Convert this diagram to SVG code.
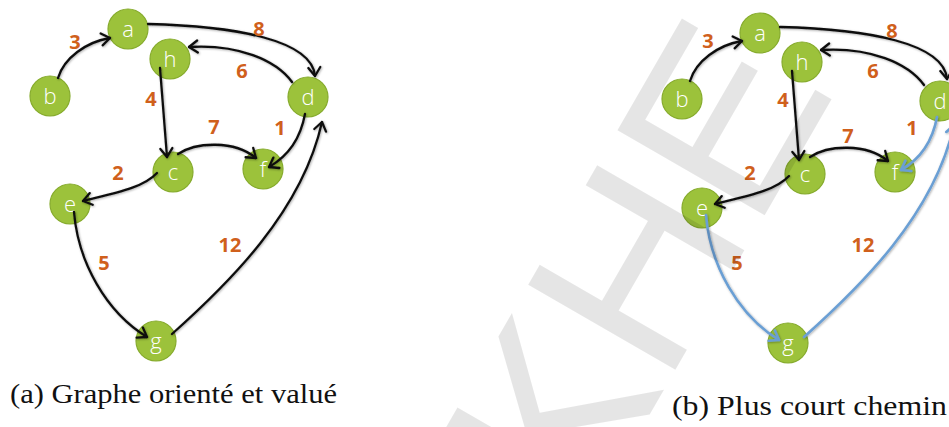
<svg xmlns="http://www.w3.org/2000/svg" width="949" height="427" viewBox="0 0 949 427">
  <style>
    .node circle { fill: #9cc23b; stroke: #86ab2d; stroke-width: 1.2; }
    .node text { font-family: "Open Sans", "Liberation Sans", sans-serif; font-size: 22px; font-weight: 300; fill: #ffffff; text-anchor: middle; }
    .edge { fill: none; stroke: #111111; stroke-width: 2.3; stroke-linecap: round; }
    .edge.path { stroke: #6b9fd4; stroke-width: 2.6; }
    .w { font-family: "Open Sans", "Liberation Sans", sans-serif; font-size: 20px; font-weight: 700; fill: #d0601c; text-anchor: middle; }
    .cap { font-family: "Liberation Serif", serif; font-size: 28px; fill: #111111; }
    .mark { font-family: "Liberation Sans", sans-serif; font-size: 247px; fill: #000000; fill-opacity: 0.1; }
  </style>
  <defs>
    <filter id="soft" x="-10%" y="-10%" width="120%" height="120%">
      <feDropShadow dx="0.8" dy="0.8" stdDeviation="0.9" flood-color="#000" flood-opacity="0.35"/>
    </filter>
    <marker id="tip" viewBox="-12 -8 14 16" markerWidth="14" markerHeight="16" refX="0" refY="0" orient="auto" markerUnits="userSpaceOnUse">
      <path d="M-8.5,-6 L0,0 L-8.5,6" fill="none" stroke="#111111" stroke-width="2.3" stroke-linecap="round" stroke-linejoin="round"/>
    </marker>
    <marker id="tipBlue" viewBox="-12 -8 14 16" markerWidth="14" markerHeight="16" refX="0" refY="0" orient="auto" markerUnits="userSpaceOnUse">
      <path d="M-8.5,-6 L0,0 L-8.5,6" fill="none" stroke="#6b9fd4" stroke-width="2.6" stroke-linecap="round" stroke-linejoin="round"/>
    </marker>
  </defs>

  <rect width="949" height="427" fill="#ffffff"/>

  <!-- (a) weighted directed graph -->
  <g id="graph-a">
    <g id="a-a" class="node"><circle cx="128" cy="29" r="20"/><text x="128" y="37">a</text></g>
    <g id="a-h" class="node"><circle cx="170" cy="59" r="20"/><text x="170" y="67">h</text></g>
    <g id="a-b" class="node"><circle cx="50" cy="96" r="20"/><text x="50" y="104">b</text></g>
    <g id="a-d" class="node"><circle cx="308" cy="97" r="20"/><text x="308" y="105">d</text></g>
    <g id="a-c" class="node"><circle cx="173" cy="172" r="20"/><text x="173" y="180">c</text></g>
    <g id="a-f" class="node"><circle cx="263" cy="169" r="20"/><text x="263" y="177">f</text></g>
    <g id="a-e" class="node"><circle cx="70" cy="204" r="20"/><text x="70" y="212">e</text></g>
    <g id="a-g" class="node"><circle cx="156" cy="341" r="20"/><text x="156" y="349">g</text></g>

    <g id="edges-a" filter="url(#soft)">
      <path class="edge" marker-end="url(#tip)" d="M58,78 C64,58 86,42 110,38"/>
      <path class="edge" marker-end="url(#tip)" d="M148,24 C235,26 312,40 315,76"/>
      <path class="edge" marker-end="url(#tip)" d="M292,82 C276,60 238,44 189,47"/>
      <path class="edge" marker-end="url(#tip)" d="M160,68 L167,157"/>
      <path class="edge" marker-end="url(#tip)" d="M178,154 C196,142 234,140 256,158"/>
      <path class="edge" marker-end="url(#tip)" d="M305,114 C301,136 290,155 269,167"/>
      <path class="edge" marker-end="url(#tip)" d="M157,173 C143,188 115,193 83,201"/>
      <path class="edge" marker-end="url(#tip)" d="M74,212 C78,262 106,312 147,337"/>
      <path class="edge" marker-end="url(#tip)" d="M172,334 C228,284 302,212 322,122"/>
    </g>

    <g id="weights-a">
      <text class="w" x="75" y="49">3</text>
      <text class="w" x="259" y="36">8</text>
      <text class="w" x="242" y="78">6</text>
      <text class="w" x="151" y="106">4</text>
      <text class="w" x="214" y="134">7</text>
      <text class="w" x="280" y="135">1</text>
      <text class="w" x="118" y="180">2</text>
      <text class="w" x="104" y="270">5</text>
      <text class="w" x="230" y="252">12</text>
    </g>
  </g>

  <!-- (b) shortest path -->
  <g id="graph-b">
    <g id="b-a" class="node"><circle cx="760" cy="33" r="20"/><text x="760" y="41">a</text></g>
    <g id="b-h" class="node"><circle cx="802" cy="62" r="20"/><text x="802" y="70">h</text></g>
    <g id="b-b" class="node"><circle cx="682" cy="99" r="20"/><text x="682" y="107">b</text></g>
    <g id="b-d" class="node"><circle cx="940" cy="101" r="20"/><text x="940" y="109">d</text></g>
    <g id="b-c" class="node"><circle cx="805" cy="174" r="20"/><text x="805" y="182">c</text></g>
    <g id="b-f" class="node"><circle cx="895" cy="172" r="20"/><text x="895" y="180">f</text></g>
    <g id="b-e" class="node"><circle cx="702" cy="208" r="20"/><text x="702" y="216">e</text></g>
    <g id="b-g" class="node"><circle cx="788" cy="343" r="20"/><text x="788" y="351">g</text></g>

    <g id="edges-b" filter="url(#soft)" transform="translate(632,3)">
      <path class="edge" marker-end="url(#tip)" d="M58,78 C64,58 86,42 110,38"/>
      <path class="edge" marker-end="url(#tip)" d="M148,24 C235,26 312,40 315,76"/>
      <path class="edge" marker-end="url(#tip)" d="M292,82 C276,60 238,44 189,47"/>
      <path class="edge" marker-end="url(#tip)" d="M160,68 L167,157"/>
      <path class="edge" marker-end="url(#tip)" d="M178,154 C196,142 234,140 256,158"/>
      <path class="edge" marker-end="url(#tip)" d="M157,173 C143,188 115,193 83,201"/>
      <path class="edge path" marker-end="url(#tipBlue)" d="M305,114 C301,136 290,155 269,167"/>
      <path class="edge path" marker-end="url(#tipBlue)" d="M74,212 C78,262 106,312 147,337"/>
      <path class="edge path" marker-end="url(#tipBlue)" d="M172,334 C228,284 302,212 322,122"/>
    </g>

    <g id="weights-b">
      <text class="w" x="708" y="48">3</text>
      <text class="w" x="892" y="38">8</text>
      <text class="w" x="873" y="78">6</text>
      <text class="w" x="783" y="107">4</text>
      <text class="w" x="848" y="143">7</text>
      <text class="w" x="912" y="135">1</text>
      <text class="w" x="750" y="180">2</text>
      <text class="w" x="737" y="270">5</text>
      <text class="w" x="863" y="252">12</text>
    </g>
  </g>

  <!-- captions -->
  <text class="cap" x="10" y="403" textLength="327" lengthAdjust="spacingAndGlyphs">(a) Graphe orienté et valué</text>
  <text class="cap" x="672" y="415" textLength="275" lengthAdjust="spacingAndGlyphs">(b) Plus court chemin</text>

  <!-- diagonal watermark laid over the page -->
  <text class="mark" transform="translate(583,530) rotate(-60)">KHE</text>
</svg>
